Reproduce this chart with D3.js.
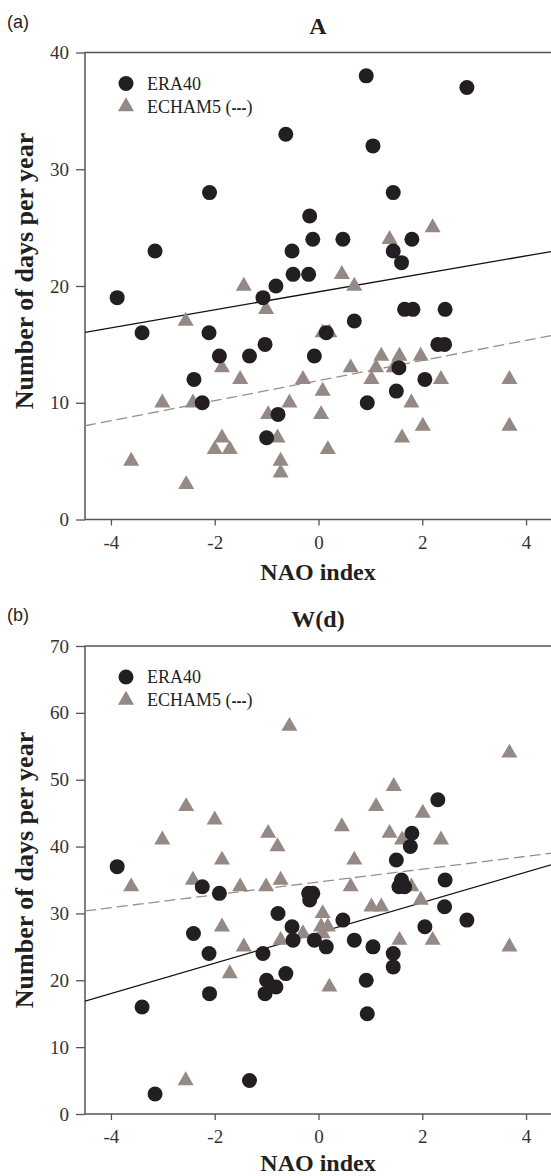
<!DOCTYPE html>
<html><head><meta charset="utf-8">
<script src="https://cdn.jsdelivr.net/npm/d3@7"></script>
<style>body{margin:0;background:#fff}</style>
</head><body>
<svg id="c" width="551" height="1176"></svg>
<script>
// ---------- DATA ----------
const xTicks = [-4, -2, 0, 2, 4];
const yTicksA = [0, 10, 20, 30, 40];
const yTicksB = [0, 10, 20, 30, 40, 50, 60, 70];
const seriesNames = ["ERA40", "ECHAM5 (---)"];

// Panel (a) A : [NAO index, days per year]
const eraA = [[-0.63,33],[-2.10,28],[-0.17,26],[-0.11,24],[-0.51,23],[-3.15,23],[-0.49,21],[-0.19,21],
  [0.92,38],[2.86,37],[1.05,32],[1.44,28],[0.47,24],[1.80,24],[1.44,23],[1.60,22],[-3.88,19],[-0.82,20],
  [-1.07,19],[-3.40,16],[-2.11,16],[-1.03,15],[-1.91,14],[-1.33,14],[-0.08,14],[-2.40,12],[-2.24,10],
  [-0.78,9],[-1.00,7],[1.66,18],[1.82,18],[2.44,18],[0.69,17],[0.15,16],[2.30,15],[2.43,15],[1.55,13],
  [2.05,12],[1.50,11],[0.94,10]];
const echamA = [[1.37,24],[2.20,25],[0.45,21],[-1.44,20],[-1.01,18],[-2.56,17],[-1.86,13],[-1.51,12],
  [-0.30,12],[-3.01,10],[-2.42,10],[-0.56,10],[-0.97,9],[-0.79,7],[-1.86,7],[-2.00,6],[-1.71,6],[-3.61,5],
  [-0.73,5],[-0.73,4],[-2.55,3],[0.69,20],[0.08,16],[0.21,16],[1.21,14],[1.56,14],[1.97,14],[0.62,13],
  [1.11,13],[1.45,13],[1.02,12],[2.36,12],[3.68,12],[0.08,11],[1.79,10],[0.05,9],[2.01,8],[3.68,8],
  [1.61,7],[0.18,6]];
// Panel (b) W(d)
const eraB = [[-3.88,37],[-2.24,34],[-1.91,33],[-0.19,33],[-0.11,33],[-0.17,32],[-0.78,30],[-0.51,28],
  [-2.41,27],[-0.49,26],[-0.08,26],[-2.11,24],[-1.07,24],[-0.63,21],[-1.00,20],[-0.82,19],[-1.03,18],
  [-2.10,18],[-3.40,16],[-1.33,5],[-3.15,3],[2.30,47],[1.80,42],[1.77,40],[1.50,38],[2.44,35],[1.60,35],
  [1.55,34],[1.66,34],[2.43,31],[0.47,29],[2.86,29],[2.05,28],[0.69,26],[0.15,25],[1.05,25],[1.44,24],
  [1.44,22],[0.92,20],[0.94,15]];
const echamB = [[-0.56,58],[-2.55,46],[-2.00,44],[-0.97,42],[-3.01,41],[-0.79,40],[-1.86,38],[-3.61,34],
  [-2.42,35],[-1.51,34],[-1.01,34],[-0.73,35],[-1.86,28],[-0.30,27],[-0.73,26],[-1.44,25],[-1.71,21],
  [-2.56,5],[3.68,54],[1.45,49],[1.11,46],[2.01,45],[0.45,43],[1.37,42],[1.61,41],[2.36,41],[0.69,38],
  [1.79,34],[0.62,34],[1.02,31],[1.21,31],[1.97,32],[0.08,30],[0.05,28],[0.18,28],[0.08,27],[1.56,26],
  [2.20,26],[3.68,25],[0.21,19]];
// regression fits: [intercept, slope]
const fitEraA = [19.5, 0.77];
const fitEchamA = [11.9, 0.86];
const fitEraB = [27.1, 2.27];
const fitEchamB = [34.7, 0.96];

// ---------- DRAW ----------
const svg = d3.select("#c");
const INK = "#231f20", TRI = "#958985", AXIS = "#555";
const SERIF = "'Liberation Serif','Times New Roman',serif";
const SANS = "'Liberation Sans',Arial,sans-serif";

const panels = [
  {tag:"(a)", title:"A", era:eraA, echam:echamA, fitE:fitEraA, fitC:fitEchamA, yTicks:yTicksA,
   yDom:[0,40], top:52.5, bottom:519.5, ylabY:271, xlabOff:60},
  {tag:"(b)", title:"W(d)", era:eraB, echam:echamB, fitE:fitEraB, fitC:fitEchamB, yTicks:yTicksB,
   yDom:[0,70], top:646, bottom:1114, ylabY:870, xlabOff:57}
];

panels.forEach((p, i) => {
  const x = d3.scaleLinear().domain([-4.5, 4.5]).range([85, 552]);
  const y = d3.scaleLinear().domain(p.yDom).range([p.bottom, p.top]);
  const g = svg.append("g");
  const clipId = "clip" + i;
  svg.append("clipPath").attr("id", clipId).append("rect")
    .attr("x", 85).attr("y", p.top).attr("width", 470).attr("height", p.bottom - p.top);

  // frame
  g.append("path").attr("d", `M560,${p.top}H85V${p.bottom}H560`)
    .attr("fill","none").attr("stroke",AXIS).attr("stroke-width",1.5);

  // y axis
  const ya = g.append("g").attr("transform","translate(85,0)")
    .call(d3.axisLeft(y).tickValues(p.yTicks).tickSize(9).tickPadding(7).tickFormat(d3.format("d")));
  ya.select(".domain").remove();
  ya.selectAll(".tick line").attr("stroke",AXIS).attr("stroke-width",1.3);
  ya.selectAll("text").attr("font-family",SERIF).attr("font-size",19).attr("fill","#333");

  // x axis
  const xa = g.append("g").attr("transform",`translate(0,${p.bottom})`)
    .call(d3.axisBottom(x).tickValues(xTicks).tickSize(6).tickPadding(10).tickFormat(d=>String(d)));
  xa.select(".domain").remove();
  xa.selectAll(".tick line").attr("stroke",AXIS).attr("stroke-width",1.3);
  xa.selectAll("text").attr("font-family",SERIF).attr("font-size",19).attr("fill","#333");

  // titles
  g.append("text").attr("x",7).attr("y",p.top-25).text(p.tag)
    .attr("font-family",SANS).attr("font-size",18).attr("fill",INK);
  g.append("text").attr("x",318).attr("y",p.top-19).attr("text-anchor","middle").text(p.title)
    .attr("font-family",SERIF).attr("font-weight","bold").attr("font-size",24).attr("fill",INK);
  g.append("text").attr("x",318).attr("y",p.bottom+p.xlabOff).attr("text-anchor","middle").text("NAO index")
    .attr("font-family",SERIF).attr("font-weight","bold").attr("font-size",24).attr("fill",INK);
  g.append("text").attr("transform",`translate(33,${p.ylabY}) rotate(-90)`).attr("text-anchor","middle")
    .text("Number of days per year")
    .attr("font-family",SERIF).attr("font-weight","bold").attr("font-size",26).attr("fill",INK);

  // fit lines
  const lineGen = f => d3.line().x(d=>x(d)).y(d=>y(f[0]+f[1]*d))(x.domain());
  const lg = g.append("g").attr("clip-path",`url(#${clipId})`);
  lg.append("path").attr("d", lineGen(p.fitE)).attr("stroke","#111").attr("stroke-width",1.3).attr("fill","none");
  lg.append("path").attr("d", lineGen(p.fitC)).attr("stroke","#9a8e8a").attr("stroke-width",1.3)
    .attr("stroke-dasharray","11,5").attr("fill","none");

  // markers
  const tri = d3.symbol().type(d3.symbolTriangle).size(112);
  g.append("g").selectAll("path").data(p.echam).join("path")
    .attr("d", tri).attr("transform", d=>`translate(${x(d[0])},${y(d[1])})`).attr("fill",TRI);
  g.append("g").selectAll("circle").data(p.era).join("circle")
    .attr("cx", d=>x(d[0])).attr("cy", d=>y(d[1])).attr("r",7.5).attr("fill",INK);

  // legend
  const ly = p.top + 31;
  g.append("circle").attr("cx",126).attr("cy",ly).attr("r",7.5).attr("fill",INK);
  g.append("path").attr("d",tri).attr("transform",`translate(126,${ly+23})`).attr("fill",TRI);
  g.append("text").attr("x",147).attr("y",ly+6).text(seriesNames[0])
    .attr("font-family",SERIF).attr("font-size",18).attr("fill",INK);
  const t2 = g.append("text").attr("x",147).attr("y",ly+29)
    .attr("font-family",SERIF).attr("font-size",18).attr("fill",INK);
  t2.append("tspan").text("ECHAM5 (");
  t2.append("tspan").attr("font-weight","bold").attr("font-family",SANS).attr("font-size",15).text("---");
  t2.append("tspan").text(")");
});
</script>
</body></html>
